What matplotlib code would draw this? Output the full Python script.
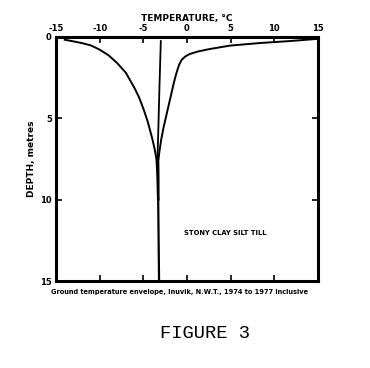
import matplotlib
matplotlib.use("Agg")
import matplotlib.pyplot as plt

# temperature envelope (deg C vs depth in m)
min_depth = [0.17, 0.27, 0.38, 0.52, 0.78, 1.12, 1.6, 2.2, 3.15, 3.7, 4.4, 5.2, 6.2, 6.9, 7.5, 8.5, 10.0]
min_temp = [-14.0, -13.0, -12.0, -11.0, -10.0, -9.0, -8.0, -7.0, -6.0, -5.5, -5.0, -4.5, -4.0, -3.7, -3.5, -3.4, -3.33]

max_depth = [0.12, 0.25, 0.37, 0.53, 0.75, 0.9, 1.05, 1.2, 1.4, 1.7, 2.2, 2.8, 3.5, 4.2, 4.9, 5.6, 6.3, 7.0, 7.6, 8.5, 10.0]
max_temp = [14.86, 11.8, 8.37, 4.93, 2.5, 1.2, 0.3, -0.2, -0.6, -0.9, -1.2, -1.5, -1.8, -2.1, -2.4, -2.7, -2.95, -3.15, -3.28, -3.26, -3.25]

mean_depth = [0.25, 3.0, 6.0, 7.4, 10.0]
mean_temp = [-3.0, -3.15, -3.3, -3.38, -3.3]

deep_depth = [10.0, 12.5, 15.0]
deep_temp = [-3.3, -3.25, -3.2]

xticks = [-15, -10, -5, 0, 5, 10, 15]
yticks = [0, 5, 10, 15]

fig = plt.figure(figsize=(3.7, 3.68), dpi=100)
ax = fig.add_axes([0.1514, 0.2364, 0.708, 0.6631])

ax.plot(min_temp, min_depth, color="black", lw=1.4)
ax.plot(max_temp, max_depth, color="black", lw=1.4)
ax.plot(mean_temp, mean_depth, color="black", lw=1.3)
ax.plot(deep_temp, deep_depth, color="black", lw=1.6)

ax.set_xlim(-15, 15)
ax.set_ylim(15, 0)
ax.xaxis.tick_top()
ax.xaxis.set_label_position("top")
ax.set_xticks(xticks)
ax.set_xticklabels([str(t) for t in xticks])
ax.set_yticks(yticks)
ax.tick_params(direction="in", length=4, width=1.2, labelsize=6, pad=3,
               top=True, bottom=True, left=True, right=True)
for lab in ax.get_xticklabels() + ax.get_yticklabels():
    lab.set_fontweight("bold")

for side in ax.spines.values():
    side.set_linewidth(2.2)

ax.set_xlabel("TEMPERATURE, °C", fontsize=6.5, fontweight="bold", labelpad=2)
ax.set_ylabel("DEPTH, metres", fontsize=6.5, fontweight="bold", labelpad=3)

ax.text(0.49, 0.197, "STONY CLAY SILT TILL", transform=ax.transAxes,
        fontsize=4.9, fontweight="bold", ha="left", va="center")

fig.text(180 / 370, 1 - 292 / 368, "Ground temperature envelope, Inuvik, N.W.T., 1974 to 1977 inclusive",
         fontsize=4.8, fontweight="bold", ha="center", va="center")
fig.text(205 / 370, 1 - 333 / 368, "FIGURE 3", family="Liberation Mono",
         fontsize=13.5, ha="center", va="center")

fig.savefig("out.png", dpi=100)
